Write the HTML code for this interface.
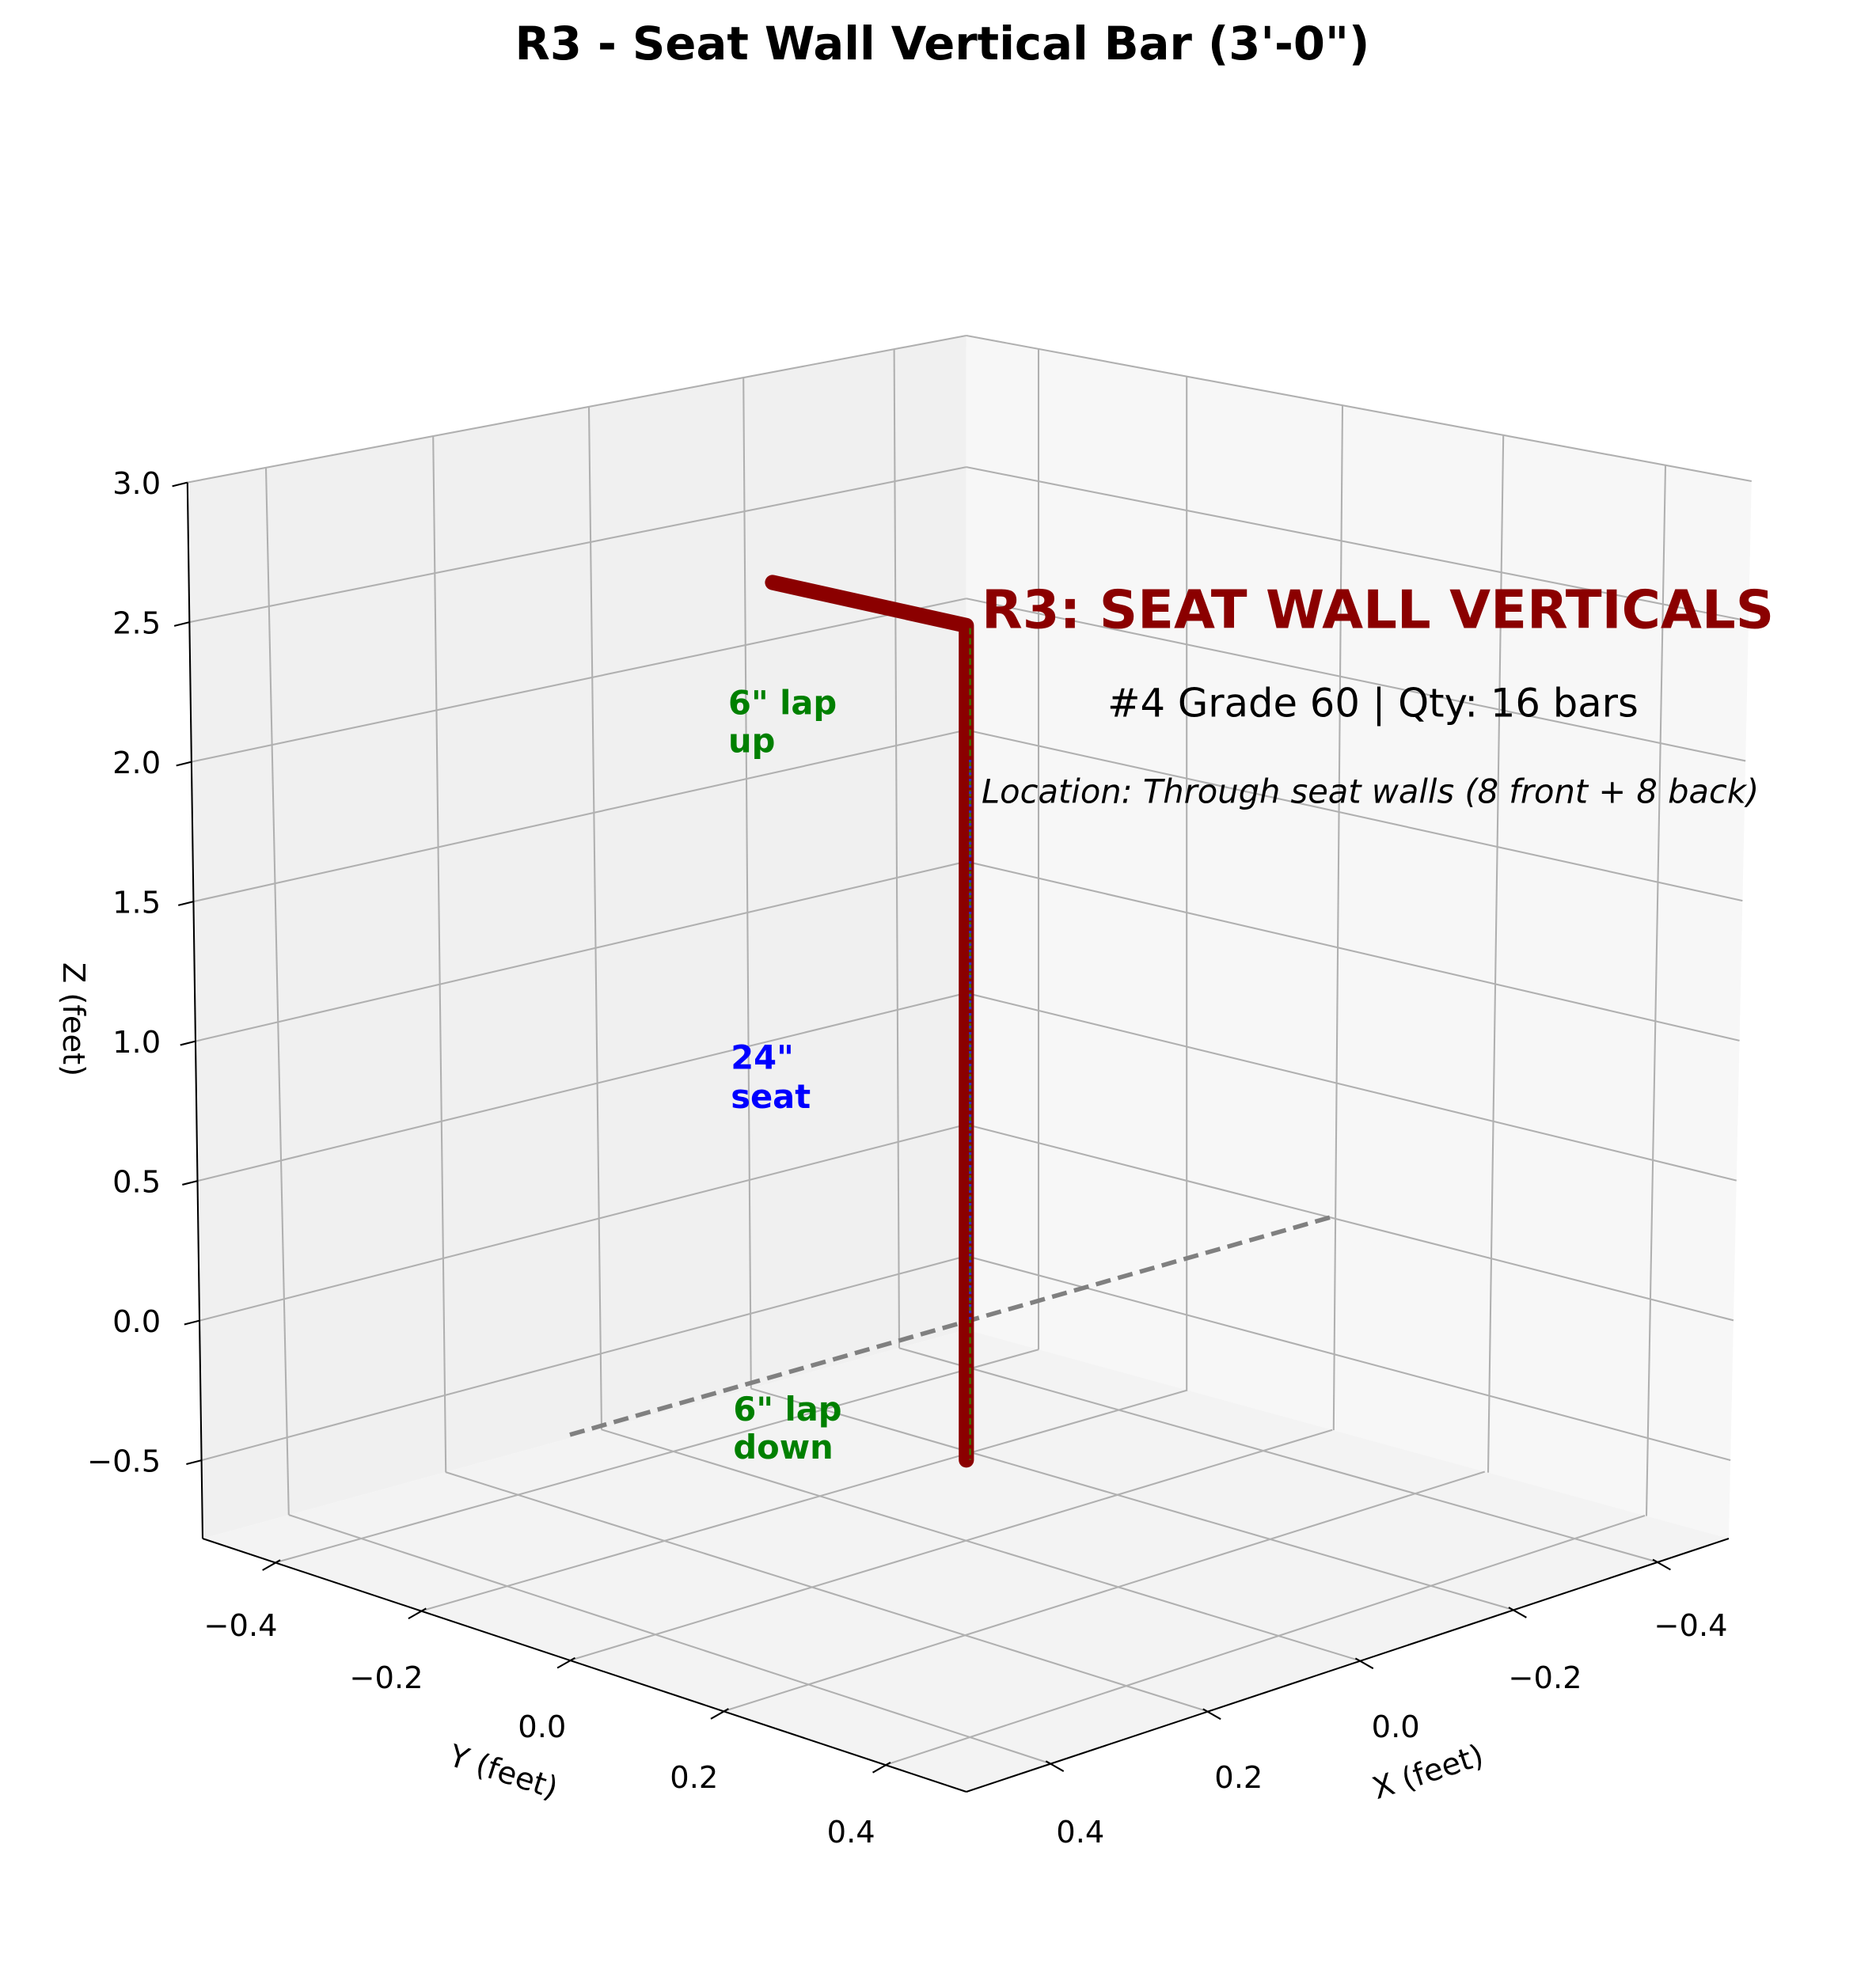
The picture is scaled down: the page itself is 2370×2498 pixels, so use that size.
<!DOCTYPE html>
<html><head><meta charset="utf-8"><style>
html,body{margin:0;padding:0;background:#fff}
svg{display:block}
text{font-family:"DejaVu Sans","Liberation Sans",sans-serif}
</style></head><body>
<svg id="s" width="2370" height="2498" viewBox="0 0 1481.25 1561.25" xmlns="http://www.w3.org/2000/svg">
<rect width="1500" height="1581" fill="#fff"/>
<polygon points="148,381 763,265 763,1050 160,1215" fill="#f0f0f0"/>
<polygon points="763,265 1383,380 1365,1215 763,1050" fill="#f7f7f7"/>
<polygon points="160,1215 763,1050 1365,1215 763,1415" fill="#f3f3f3"/>
<g id="grid" stroke="#b0b0b0" stroke-width="1.3" fill="none"></g>
<g id="axes" stroke="#000" stroke-width="1.3" fill="none"></g>
<line x1="450" y1="1133" x2="1055" y2="960" stroke="#808080" stroke-width="3.5" stroke-dasharray="12,6"/>
<polyline points="610,460 763,494 763,1153" fill="none" stroke="#8b0000" stroke-width="12" stroke-linecap="round" stroke-linejoin="round"/>
<line x1="766" y1="496" x2="766" y2="1153" stroke="#3a7a00" stroke-width="1.5" stroke-dasharray="5,3"/>
<line x1="766" y1="600" x2="766" y2="1045" stroke="#3030c0" stroke-width="2" stroke-dasharray="2,3"/>
<g id="labels" font-size="24" fill="#000"></g>
<text x="744" y="47" font-size="36" font-weight="bold" text-anchor="middle">R3 - Seat Wall Vertical Bar (3'-0")</text>
<text x="775" y="496" font-size="42" font-weight="bold" fill="#8b0000">R3: SEAT WALL VERTICALS</text>
<text x="1084" y="566" font-size="31" text-anchor="middle">#4 Grade 60 | Qty: 16 bars</text>
<text x="775" y="634" font-size="26" font-style="italic">Location: Through seat walls (8 front + 8 back)</text>
<g font-size="26" font-weight="bold">
<text x="575" y="564" fill="#008000">6" lap</text><text x="575" y="594" fill="#008000">up</text>
<text x="577" y="844" fill="#0000ff">24"</text><text x="577" y="875" fill="#0000ff">seat</text>
<text x="579" y="1122" fill="#008000">6" lap</text><text x="579" y="1152" fill="#008000">down</text>
</g>
<text x="50" y="805" font-size="24" text-anchor="middle" transform="rotate(90 50 805)">Z (feet)</text>
<text x="395" y="1407" font-size="24" text-anchor="middle" transform="rotate(18 395 1407)">Y (feet)</text>
<text x="1130" y="1407" font-size="24" text-anchor="middle" transform="rotate(-18 1130 1407)">X (feet)</text>
</svg>
<script>
const NS="http://www.w3.org/2000/svg";
function L(g,x1,y1,x2,y2){const l=document.createElementNS(NS,"line");l.setAttribute("x1",x1);l.setAttribute("y1",y1);l.setAttribute("x2",x2);l.setAttribute("y2",y2);document.getElementById(g).appendChild(l);}
function T(x,y,s,a){const t=document.createElementNS(NS,"text");t.setAttribute("x",x);t.setAttribute("y",y);t.setAttribute("text-anchor",a||"middle");t.textContent=s;document.getElementById("labels").appendChild(t);}
const lerp=(a,b,t)=>[a[0]+(b[0]-a[0])*t,a[1]+(b[1]-a[1])*t];
const lt=[210,342,465,587,706], lb=[228,352,475,593,710];
for(let i=0;i<5;i++){const ty=381+(lt[i]-148)*(265-381)/615, by=1215+(lb[i]-160)*(1050-1215)/603;L("grid",lt[i],ty,lb[i],by);}
const rt=[820,937,1060,1187,1315], rb=[820,937,1053,1175,1300];
for(let i=0;i<5;i++){const ty=265+(rt[i]-763)*(380-265)/620, by=1050+(rb[i]-763)*(1215-1050)/602;L("grid",rt[i],ty,rb[i],by);}
const zs=[3.0,2.5,2.0,1.5,1.0,0.5,0.0,-0.5];
zs.forEach(z=>{const f=(3.0-z)/3.78;const lx=148+f*12,ly=381+f*834,cy=265+f*785,rx=1383-f*18,ry=380+f*835;
L("grid",lx,ly,763,cy);L("grid",763,cy,rx,ry);
L("axes",lx-12,ly+3,lx,ly);T(127,ly+9,z.toFixed(1).replace("-","\u2212"),"end");});
const FL=[160,1215],FB=[763,1050],FR=[1365,1215],FF=[763,1415];
const u=[0.113,0.318,0.522,0.718,0.912], v=[0.111,0.317,0.517,0.718,0.907];
for(let i=0;i<5;i++){const a=lerp(FL,FB,u[i]),b=lerp(FF,FR,v[i]);L("grid",a[0],a[1],b[0],b[1]);}
const t=[0.095,0.286,0.481,0.682,0.894], w=[0.095,0.29,0.48,0.68,0.89];
for(let i=0;i<5;i++){const a=lerp(FL,FF,t[i]),b=lerp(FB,FR,w[i]);L("grid",a[0],a[1],b[0],b[1]);}
L("axes",148,381,160,1215);L("axes",160,1215,763,1415);L("axes",763,1415,1365,1215);
const yl=["\u22120.4","\u22120.2","0.0","0.2","0.4"];
for(let i=0;i<5;i++){const a=lerp(FL,FF,t[i]);L("axes",a[0]-10,a[1]+6,a[0]+4,a[1]-2);}
[[190,1292],[305,1333],[428,1372],[548,1412],[672,1455]].forEach((p,i)=>T(p[0],p[1],yl[i]));
for(let i=0;i<5;i++){const a=lerp(FF,FR,v[i]);L("axes",a[0]-4,a[1]-2,a[0]+10,a[1]+6);}
[[1335,1292],[1220,1333],[1102,1372],[978,1412],[853,1455]].forEach((p,i)=>T(p[0],p[1],yl[i]));
</script>
</body></html>
